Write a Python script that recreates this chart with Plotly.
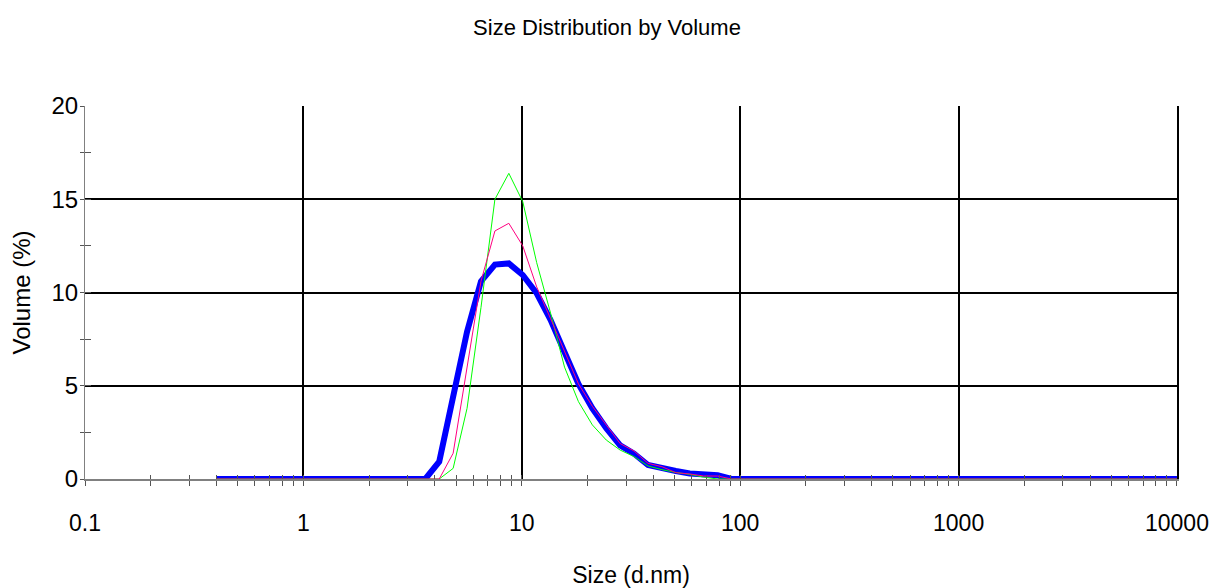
import plotly.graph_objects as go

# Size classes (d.nm), 70 log-spaced bins
sizes = [
    0.4000, 0.4632, 0.5365, 0.6213, 0.7195, 0.8332, 0.9649, 1.117, 1.294, 1.499,
    1.736, 2.010, 2.328, 2.696, 3.122, 3.615, 4.187, 4.849, 5.615, 6.503,
    7.531, 8.721, 10.10, 11.70, 13.54, 15.69, 18.17, 21.04, 24.36, 28.21,
    32.67, 37.84, 43.82, 50.75, 58.77, 68.06, 78.82, 91.28, 105.7, 122.4,
    141.8, 164.2, 190.1, 220.2, 255.0, 295.3, 342.0, 396.1, 458.7, 531.2,
    615.1, 712.4, 825.0, 955.4, 1106, 1281, 1484, 1718, 1990, 2305,
    2669, 3091, 3580, 4145, 4801, 5560, 6439, 7456, 8635, 10000,
]

# Volume (%) per size class for each record
volume_blue = [
    0, 0, 0, 0, 0, 0, 0, 0, 0, 0,
    0, 0, 0, 0, 0, 0, 0.93, 4.5, 7.9, 10.6,
    11.5, 11.56, 10.94, 9.96, 8.53, 6.8, 5.1, 3.79, 2.72, 1.8,
    1.36, 0.75, 0.57, 0.43, 0.3, 0.27, 0.2, 0, 0, 0,
    0, 0, 0, 0, 0, 0, 0, 0, 0, 0,
    0, 0, 0, 0, 0, 0, 0, 0, 0, 0,
    0, 0, 0, 0, 0, 0, 0, 0, 0, 0,
]
volume_green = [
    0, 0, 0, 0, 0, 0, 0, 0, 0, 0,
    0, 0, 0, 0, 0, 0, 0, 0.57, 3.79, 9.2,
    15.0, 16.39, 14.87, 11.6, 8.9, 6.0, 4.15, 2.9, 2.09, 1.55,
    1.2, 0.7, 0.5, 0.35, 0.25, 0.1, 0, 0, 0, 0,
    0, 0, 0, 0, 0, 0, 0, 0, 0, 0,
    0, 0, 0, 0, 0, 0, 0, 0, 0, 0,
    0, 0, 0, 0, 0, 0, 0, 0, 0, 0,
]
volume_pink = [
    0, 0, 0, 0, 0, 0, 0, 0, 0, 0,
    0, 0, 0, 0, 0, 0, 0, 1.38, 6.0, 10.6,
    13.3, 13.71, 12.5, 10.3, 8.6, 6.8, 5.1, 3.9, 2.9, 1.9,
    1.5, 0.84, 0.66, 0.34, 0.27, 0.16, 0.16, 0, 0, 0,
    0, 0, 0, 0, 0, 0, 0, 0, 0, 0,
    0, 0, 0, 0, 0, 0, 0, 0, 0, 0,
    0, 0, 0, 0, 0, 0, 0, 0, 0, 0,
]

x_ticks = [0.1, 1, 10, 100, 1000, 10000]
x_ticktext = ["0.1", "1", "10", "100", "1000", "10000"]

font_face = "Liberation Sans, Arial, sans-serif"
x_range = [-1.0001, 4.0001]
y_range = [0, 20]

fig = go.Figure()
# blue record on the base axes, the thin records on the companion axes
# (identical ranges) so those axes get drawn and the stacking is blue < green < pink
fig.add_trace(go.Scatter(x=sizes, y=volume_blue, mode="lines",
                         line=dict(color="#0000FF", width=6), name="Record 1"))
fig.add_trace(go.Scatter(x=sizes, y=volume_green, mode="lines", xaxis="x2", yaxis="y2",
                         line=dict(color="#00FF00", width=1), name="Record 2"))
fig.add_trace(go.Scatter(x=sizes, y=volume_pink, mode="lines", xaxis="x2", yaxis="y3",
                         line=dict(color="#FF0080", width=1), name="Record 3"))

fig.update_layout(
    width=1214, height=588,
    margin=dict(l=85, r=37, t=106, b=109),
    paper_bgcolor="white", plot_bgcolor="white",
    showlegend=False,
    title=dict(text="Size Distribution by Volume", x=0.5, xanchor="center",
               xref="container", y=1 - 27 / 588, yref="container", yanchor="middle",
               font=dict(family=font_face, size=22, color="black")),
    xaxis=dict(
        type="log", range=x_range, tickmode="array",
        tickvals=x_ticks, ticktext=x_ticktext, automargin=False,
        ticks="outside", ticklen=5, tickcolor="#555", tickwidth=1,
        ticklabelstandoff=17,
        tickfont=dict(family=font_face, size=23, color="black"),
        showline=True, linecolor="#808080", linewidth=2,
        showgrid=True, gridcolor="black", gridwidth=2,
        minor=dict(ticks="outside", ticklen=5, tickcolor="#555", dtick="D1", showgrid=False),
        title=dict(text="Size (d.nm)", standoff=33,
                   font=dict(family=font_face, size=23, color="black")),
    ),
    yaxis=dict(
        range=y_range, tickmode="linear", tick0=0, dtick=5, automargin=False,
        ticks="outside", ticklen=4, tickcolor="#555", tickwidth=1,
        ticklabelstandoff=-3,
        tickfont=dict(family=font_face, size=24, color="black"),
        showline=True, linecolor="#808080", linewidth=1,
        showgrid=True, gridcolor="black", gridwidth=2, zeroline=False,
        minor=dict(ticks="outside", ticklen=4, tickcolor="#555", dtick=2.5, showgrid=False),
        title=dict(text="Volume (%)", standoff=14,
                   font=dict(family=font_face, size=24, color="black")),
    ),
    # companion axes carrying the inner halves of the tick marks
    xaxis2=dict(
        type="log", range=x_range, overlaying="x", anchor="y", side="bottom",
        tickmode="array", tickvals=x_ticks, ticks="inside", ticklen=4,
        tickcolor="#555", showticklabels=False, showgrid=False, showline=False,
        zeroline=False, automargin=False,
        minor=dict(ticks="inside", ticklen=4, tickcolor="#555", dtick="D1", showgrid=False),
    ),
    yaxis2=dict(
        range=y_range, overlaying="y", anchor="x", side="left",
        tickmode="linear", tick0=0, dtick=5, ticks="inside", ticklen=6,
        tickcolor="#555", showticklabels=False, showgrid=False, showline=False,
        zeroline=False, automargin=False,
        minor=dict(ticks="inside", ticklen=6, tickcolor="#555", dtick=2.5, showgrid=False),
    ),
    # right-hand frame line at 10000
    yaxis3=dict(
        range=y_range, overlaying="y", anchor="x", side="right",
        showline=True, linecolor="black", linewidth=2, ticks="",
        showticklabels=False, showgrid=False, zeroline=False, automargin=False,
    ),
)

fig.write_html("out.html")
